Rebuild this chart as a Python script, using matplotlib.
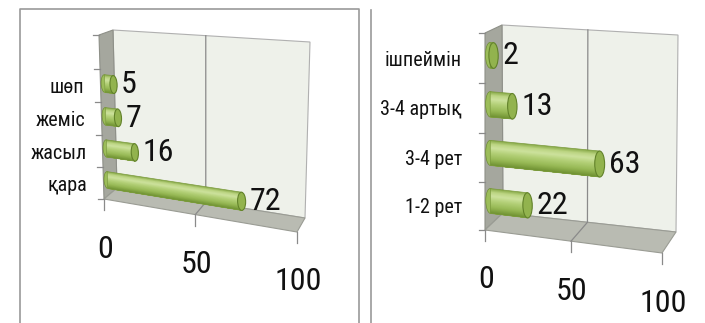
import numpy as np
import matplotlib
matplotlib.use('Agg')
import matplotlib.pyplot as plt
import matplotlib.transforms as mtransforms
from matplotlib import font_manager as fm
from matplotlib.patches import Polygon, Ellipse
from matplotlib.lines import Line2D
from matplotlib.colors import to_rgb

W, H = 705, 323

cats_left = ['қара', 'жасыл', 'жеміс', 'шөп']
vals_left = [72, 16, 7, 5]
cats_right = ['1-2 рет', '3-4 рет', '3-4 артық', 'ішпеймін']
vals_right = [22, 63, 13, 2]
xticks = [0, 50, 100]


def pick_font():
    for fam in ['Liberation Sans Narrow', 'Roboto Condensed', 'Noto Sans Condensed',
                'Open Sans Condensed', 'DejaVu Sans Condensed', 'Arial Narrow']:
        try:
            fm.findfont(fm.FontProperties(family=fam), fallback_to_default=False)
            return fam, 'normal', True
        except Exception:
            pass
    for fam in ['Noto Sans', 'Open Sans', 'DejaVu Sans', 'Roboto']:
        try:
            path = fm.findfont(fm.FontProperties(family=fam, stretch='condensed'),
                               fallback_to_default=False)
            low = path.lower()
            if 'condensed' in low or 'narrow' in low:
                return fam, 'condensed', True
        except Exception:
            pass
    return 'Liberation Sans', 'normal', False


FAM, STRETCH, NARROW = pick_font()
FONT = [FAM, 'Liberation Sans', 'DejaVu Sans']
NUM_SIZE = 23 if NARROW else 20
CAT_SIZE = 14.5 if NARROW else 13


def homography(src, dst):
    A, b = [], []
    for (u, v), (x, y) in zip(src, dst):
        A.append([u, v, 1, 0, 0, 0, -u * x, -v * x]); b.append(x)
        A.append([0, 0, 0, u, v, 1, -u * y, -v * y]); b.append(y)
    h = np.linalg.solve(np.array(A, float), np.array(b, float))
    return np.append(h, 1.0).reshape(3, 3)


class Persp(mtransforms.Transform):
    input_dims = 2
    output_dims = 2
    is_separable = False
    has_inverse = False

    def __init__(self, Hf, Hb, d):
        super().__init__()
        self.Hf, self.Hb, self.d = Hf, Hb, d

    def transform_non_affine(self, values):
        p = np.asarray(values, float).reshape(-1, 2)
        q = np.column_stack([p, np.ones(len(p))])

        def ap(Hm):
            r = q @ Hm.T
            return r[:, :2] / r[:, 2:3]
        return (1 - self.d) * ap(self.Hf) + self.d * ap(self.Hb)


def ff(px, py):
    return (px / W, 1 - py / H)


def gradient(anchors, n):
    pos = np.array([a[0] for a in anchors])
    cols = np.array([to_rgb(a[1]) for a in anchors])
    t = (np.arange(n) + 0.5) / n
    return [tuple(np.interp(ti, pos, cols[:, j]) for j in range(3)) for ti in t]


BAR_SHADES = gradient([(0.0, '#87a947'), (0.15, '#bcd583'), (0.3, '#cde29d'),
                       (0.5, '#b2cf76'), (0.75, '#97b955'), (1.0, '#6e8f31')], 24)

fig = plt.figure(figsize=(W / 100, H / 100), dpi=100)
fig.patch.set_facecolor('white')


def txt_kw(size):
    return dict(fontsize=size, family=FONT, fontstretch=STRETCH, color='#111111', zorder=5)


def make_chart(cats, vals, nslots, front, back, label_gap, dep=0.3, r=0.25, capw=4.0):
    ax = fig.add_axes([0, 0, 1, 1])
    ax.set_axis_off()
    ax.patch.set_visible(False)
    ax.set_xlim(0, 100)
    ax.set_ylim(-0.5, nslots - 0.5)
    src = [(0, 0), (1, 0), (0, 1), (1, 1)]
    Hf = homography(src, [ff(*p) for p in front])
    Hb = homography(src, [ff(*p) for p in back])

    def P(d):
        return ax.transScale + ax.transLimits + Persp(Hf, Hb, d)

    def T(d):
        return P(d) + fig.transFigure

    def pt(x, c, d):
        return P(d).transform((x, c))

    bot, top = -0.5, nslots - 0.5
    back_poly = [pt(0, bot, 1), pt(100, bot, 1), pt(100, top, 1), pt(0, top, 1)]
    left_poly = [pt(0, bot, 0), pt(0, top, 0), pt(0, top, 1), pt(0, bot, 1)]
    floor_poly = [pt(0, bot, 0), pt(100, bot, 0), pt(100, bot, 1), pt(0, bot, 1)]
    ax.add_patch(Polygon(back_poly, closed=True, transform=fig.transFigure,
                         fc='#eef1ea', ec='#b0b0b0', lw=0.8, zorder=1))
    ax.add_patch(Polygon(left_poly, closed=True, transform=fig.transFigure,
                         fc='#a5a79e', ec='#8e9088', lw=0.8, zorder=1))
    ax.add_patch(Polygon(floor_poly, closed=True, transform=fig.transFigure,
                         fc='#b9bbb2', ec='#9a9c94', lw=0.8, zorder=1))
    g = [pt(50, top, 1), pt(50, bot, 1), pt(50, bot, 0)]
    ax.add_line(Line2D([p[0] for p in g], [p[1] for p in g], transform=fig.transFigure,
                       color='#8a8a8a', lw=0.9, zorder=2))
    for t in xticks:
        p0 = pt(t, bot, 0)
        ax.add_line(Line2D([p0[0], p0[0]], [p0[1], p0[1] - 11 / H], transform=fig.transFigure,
                           color='#8a8a8a', lw=0.9, zorder=2))
        ax.text(t, bot, str(t),
                transform=mtransforms.offset_copy(T(0), fig=fig, x=1, y=-50, units='dots'),
                ha='center', va='center', **txt_kw(NUM_SIZE))
    for k in range(nslots + 1):
        p0 = pt(0, bot + k, 0)
        ax.add_line(Line2D([p0[0] - 6 / W, p0[0]], [p0[1], p0[1]], transform=fig.transFigure,
                           color='#8a8a8a', lw=0.9, zorder=2))
    pos = np.arange(len(cats))
    for p, name in zip(pos, cats):
        ax.text(0, p, name,
                transform=mtransforms.offset_copy(T(0), fig=fig, x=-label_gap, y=-2, units='dots'),
                ha='right', va='center', **txt_kw(CAT_SIZE))
    # cylinder body: stacked overlapping bands (each from its top edge down to the bar bottom)
    n = len(BAR_SHADES)
    for k, col in enumerate(BAR_SHADES):
        band_top = r - k * 2 * r / n
        hgt = band_top + r
        ax.barh(pos - r + hgt / 2, vals, height=hgt, left=0, color=col, linewidth=0,
                transform=T(dep), zorder=3 + k * 0.001)
    ax.barh(pos, vals, height=2 * r, left=0, fill=False, edgecolor='#7a9a3c', linewidth=0.5,
            transform=T(dep), zorder=3.1)
    for p, v in zip(pos, vals):
        ax.add_patch(Ellipse((0, p), capw, 2 * r, transform=T(dep), fc='#9cbd5a', ec='#6f8f33',
                             lw=0.5, zorder=2.9))
        ax.add_patch(Ellipse((v, p), capw, 2 * r, transform=T(dep), fc='#92b34e', ec='#62822a',
                             lw=0.8, zorder=4))
        ax.text(v + capw / 2, p, str(v),
                transform=mtransforms.offset_copy(T(dep), fig=fig, x=4, y=0, units='dots'),
                ha='left', va='center', **txt_kw(NUM_SIZE))
    return ax


make_chart(cats_left, vals_left, 5,
           front=[(104, 199), (297, 232), (99, 35), (301, 50)],
           back=[(117, 188), (305, 218), (113, 30), (310, 42)],
           label_gap=16, r=0.27, capw=4.0)
make_chart(cats_right, vals_right, 4,
           front=[(485, 230), (662, 253), (485, 33), (666, 45)],
           back=[(503, 213), (676, 232), (502, 25), (678, 35)],
           label_gap=23, r=0.26, capw=5.5)

fig.add_artist(Line2D([19.5 / W, 19.5 / W, 358.5 / W, 358.5 / W], [0, 1 - 9 / H, 1 - 9 / H, 0],
                      transform=fig.transFigure, color='#9a9a9a', lw=1.2))
fig.add_artist(Line2D([370.5 / W, 370.5 / W], [0, 1 - 10 / H],
                      transform=fig.transFigure, color='#9a9a9a', lw=1.2))

fig.savefig('out.png', dpi=100, facecolor='white')
